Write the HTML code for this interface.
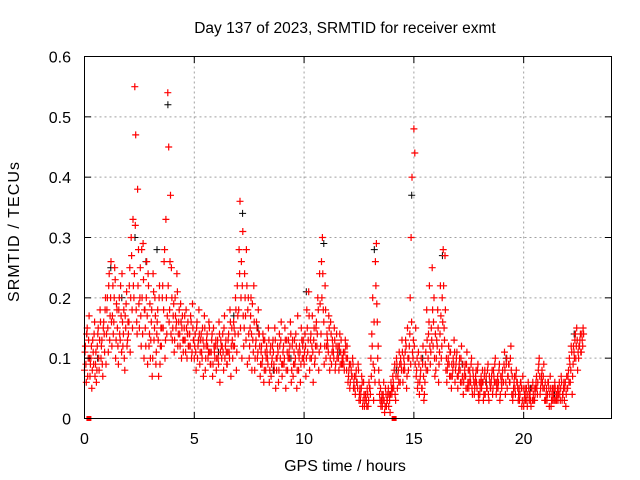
<!DOCTYPE html>
<html><head><meta charset="utf-8"><style>
body{margin:0;background:#fff}
svg{display:block;font-family:"Liberation Sans",sans-serif}
</style></head><body>
<svg id="chart" width="640" height="480" xmlns="http://www.w3.org/2000/svg">
<rect width="640" height="480" fill="#fff"/>
<text x="345" y="33" font-size="15.5" text-anchor="middle">Day 137 of 2023, SRMTID for receiver exmt</text>
<text x="345" y="471" font-size="16" text-anchor="middle">GPS time / hours</text>
<text transform="translate(19,232) rotate(-90)" font-size="16" text-anchor="middle" textLength="140">SRMTID / TECUs</text>
<g id="grid"></g>
<g id="black"></g>
<g id="red"></g>
<rect x="84.5" y="56.5" width="527" height="362" fill="none" stroke="#000" stroke-width="1"/>
<g id="ticks"></g>
</svg>
<script>
const xTicks=[0,5,10,15,20];
const yTicks=[0,0.1,0.2,0.3,0.4,0.5,0.6];
const yTickLabels=["0","0.1","0.2","0.3","0.4","0.5","0.6"];
const binWidth=0.25;
const redBins=[
[8,12,6,15,10,17],[7,10,5,13,9,16],[9,6,12,15,8,18],[10,13,7,16,11,20],
[14,20,11,24,17,26],[12,22,16,25,10,19],[15,9,20,13,17,24],[12,18,8,15,21,13],
[14,22,11,30,18,33],[20,55,47,16,38,28],[15,25,12,20,29,10],[18,12,26,9,22,14],
[10,16,7,24,13,20],[9,14,18,7,22,12],[12,20,15,26,10,33],[14,54,45,18,37,25],
[13,17,11,20,15,24],[12,16,14,19,10,17],[11,15,13,18,10,16],[12,14,17,10,19,13],
[10,14,8,16,12,18],[9,13,11,15,7,17],[8,12,14,10,16,11],[9,13,7,15,11,12],
[8,12,10,16,6,13],[10,14,8,17,12,11],[9,13,11,18,7,15],[10,16,12,20,8,22],
[14,28,36,20,10,31],[12,24,17,28,9,20],[10,15,20,8,13,22],[8,12,16,10,18,14],
[7,11,9,14,6,13],[8,12,10,15,6,11],[7,10,13,9,15,5],[8,12,6,14,10,16],
[7,11,9,15,5,13],[8,13,10,16,6,12],[7,11,9,14,5,17],[8,12,6,15,10,13],
[9,14,7,18,11,21],[8,13,10,17,6,15],[10,15,12,20,8,24],[12,26,30,18,9,22],
[10,14,12,17,8,16],[9,13,11,15,8,12],[10,12,8,14,11,9],[9,11,8,13,10,12],
[6,8,5,9,7,10],[5,7,4,8,6,9],[3,5,4,7,2,6],[2,4,3,5,2,6],
[5,10,14,20,3,8],[26,29,16,12,6,3],[2,4,3,6,1,5],[2,3,5,4,1,6],
[4,7,5,9,3,10],[5,8,11,6,9,13],[6,10,8,13,5,15],[8,12,20,30,40,10],
[48,44,15,8,5,11],[4,7,10,5,12,3],[6,11,18,8,14,22],[9,15,25,12,20,7],
[8,13,18,6,11,22],[10,20,28,15,27,8],[6,9,12,7,11,5],[7,10,13,6,9,11],
[5,8,10,6,12,7],[4,7,9,5,11,6],[5,8,6,10,4,7],[4,6,8,5,9,3],
[4,6,5,8,3,7],[4,7,5,9,3,6],[5,7,4,8,6,10],[4,6,5,8,3,7],
[5,8,6,11,4,9],[5,7,9,6,12,4],[3,5,7,4,8,6],[3,5,4,6,2,7],
[2,4,3,5,2,6],[3,4,2,5,6,3],[3,5,7,4,8,10],[4,6,8,5,9,3],
[3,5,4,6,2,7],[2,4,3,5,6,3],[3,5,4,6,3,7],[3,4,6,5,2,7],
[5,8,10,6,12,4],[9,11,13,10,15,8],[10,12,14,11,13,15]];
const redBins2=[
[11,9,14,7,13,10],[9,12,8,11,14,7],[11,8,14,10,13,16],[12,9,15,14,18,9],
[18,15,22,13,20,16],[17,14,20,23,13,18],[12,18,14,22,11,16],[14,10,17,19,12,16],
[16,25,20,27,15,22],[24,32,18,14,22,19],[20,17,28,14,23,18],[15,20,17,24,12,19],
[13,18,10,21,15,17],[11,16,13,20,9,15],[15,22,18,28,13,20],[17,22,16,26,14,20],
[15,19,13,17,16,21],[14,18,12,16,15,13],[13,17,11,15,14,12],[14,12,16,11,15,13],
[12,11,15,10,13,14],[11,14,10,13,12,15],[10,13,12,11,15,9],[11,14,9,12,10,13],
[10,13,9,14,11,12],[12,11,15,10,13,9],[11,14,10,16,12,13],[12,15,14,18,11,17],
[18,24,15,26,22,17],[15,20,13,22,18,14],[12,17,14,19,11,16],[10,13,15,11,14,12],
[9,12,10,13,8,11],[10,11,9,13,8,12],[9,12,11,8,13,10],[10,11,8,12,13,9],
[9,12,10,13,8,11],[10,11,12,14,8,13],[9,13,10,12,8,11],[10,11,9,13,12,10],
[11,12,10,15,13,17],[10,14,12,11,13,9],[12,16,14,18,11,19],[14,20,24,16,12,18],
[12,13,11,15,10,14],[11,12,10,13,9,14],[11,10,12,9,13,10],[10,9,11,12,8,10],
[7,9,6,8,7,9],[6,5,7,6,5,8],[4,3,5,6,3,4],[3,4,2,4,3,5],
[4,7,12,9,16,6],[22,19,10,8,4,5],[3,2,4,3,2,4],[3,4,2,3,4,5],
[5,6,8,4,7,9],[7,6,9,10,8,11],[8,9,11,12,7,10],[10,14,9,16,11,13],
[12,9,7,10,6,9],[6,8,5,9,7,4],[9,8,13,10,16,12],[11,13,18,16,10,14],
[10,12,15,9,14,17],[12,16,22,13,18,10],[8,10,9,11,7,9],[8,9,11,8,10,7],
[7,9,8,10,6,9],[6,8,7,9,5,8],[6,7,9,5,8,6],[5,7,6,8,4,6],
[5,7,6,6,4,8],[6,5,8,4,7,5],[6,8,5,7,9,6],[5,7,6,9,4,6],
[7,6,9,8,6,10],[7,9,6,10,8,7],[4,6,5,7,6,5],[4,3,6,5,3,5],
[3,5,4,3,4,5],[4,3,5,3,4,5],[4,6,5,6,9,7],[5,7,6,7,5,6],
[4,3,6,5,4,5],[3,5,4,3,5,4],[4,3,5,4,5,6],[4,5,3,6,4,5],
[7,6,9,8,11,7],[12,10,14,12,13,11],[12,13,11,14,12,14]];
const blackTimes=[0.1,0.6,1.2,1.7,2.3,2.8,3.3,3.8,4.4,5.2,6.1,6.8,7.2,7.9,8.6,9.4,10.1,10.9,11.6,12.4,13.2,14.2,14.9,15.4,16.3,17.2,18.3,19.2,20.3,21.4,22.3];
const blackVals=[0.14,0.10,0.25,0.20,0.30,0.26,0.28,0.52,0.16,0.13,0.11,0.17,0.34,0.15,0.08,0.10,0.21,0.29,0.11,0.06,0.28,0.08,0.37,0.10,0.27,0.09,0.06,0.10,0.05,0.04,0.14];
const zeroTimes=[0.2,14.1];
const xs=t=>84.5+t/24*527;
const ys=v=>418.5-v/0.6*362;
const NS="http://www.w3.org/2000/svg";
function mk(tag,parent,attrs){const e=document.createElementNS(NS,tag);for(const k in attrs)e.setAttribute(k,attrs[k]);parent.appendChild(e);return e;}
const grid=document.getElementById('grid'),ticks=document.getElementById('ticks');
xTicks.forEach(t=>{
 if(t>0){const g=mk('line',grid,{x1:xs(t),x2:xs(t),y1:56.5,y2:418.5,stroke:'#a0a0a0','stroke-dasharray':'2,3'});
 
 }
 const a=mk('line',ticks,{x1:xs(t),x2:xs(t),y1:418.5,y2:412,stroke:'#000'});
 
 
 const b=mk('line',ticks,{x1:xs(t),x2:xs(t),y1:56.5,y2:63,stroke:'#000'});
 
 
 const l=mk('text',ticks,{x:xs(t),y:444,'font-size':16,'text-anchor':'middle'});l.textContent=t;
 
 
});
yTicks.forEach((v,i)=>{
 if(v>0&&v<0.6){const g=mk('line',grid,{x1:84.5,x2:611.5,y1:ys(v),y2:ys(v),stroke:'#a0a0a0','stroke-dasharray':'2,3'});
 
 }
 const a=mk('line',ticks,{x1:84.5,x2:91,y1:ys(v),y2:ys(v),stroke:'#000'});
 
 
 const b=mk('line',ticks,{x1:605,x2:611.5,y1:ys(v),y2:ys(v),stroke:'#000'});
 
 
 const l=mk('text',ticks,{x:71,y:ys(v)+6,'font-size':16,'text-anchor':'end'});l.textContent=yTickLabels[i];
 
 
});
function plus(x,y){return `M${(x-3.5).toFixed(1)} ${y.toFixed(1)}h7M${x.toFixed(1)} ${(y-3.5).toFixed(1)}v7`;}
let bd='';
blackTimes.forEach((t,i)=>{bd+=plus(xs(t),ys(blackVals[i]));});
const bp=mk('path',document.getElementById('black'),{d:bd,stroke:'#000','stroke-width':1,fill:'none'});


let rd='';
redBins.forEach((vals,b)=>{vals.forEach((v,j)=>{const t=b*binWidth+j*binWidth/vals.length;rd+=plus(xs(t),ys(v/100));});});
redBins2.forEach((vals,b)=>{vals.forEach((v,j)=>{const t=b*binWidth+(j+0.5)*binWidth/vals.length;rd+=plus(xs(t),ys(v/100));});});
const rp=mk('path',document.getElementById('red'),{d:rd,stroke:'#ff0000','stroke-width':1.2,fill:'none'});


zeroTimes.forEach(t=>{const r=mk('rect',document.getElementById('red'),{x:xs(t)-2.5,y:ys(0)-2.5,width:5,height:5,fill:'#ff0000'});
 
 });
</script>
</body></html>
